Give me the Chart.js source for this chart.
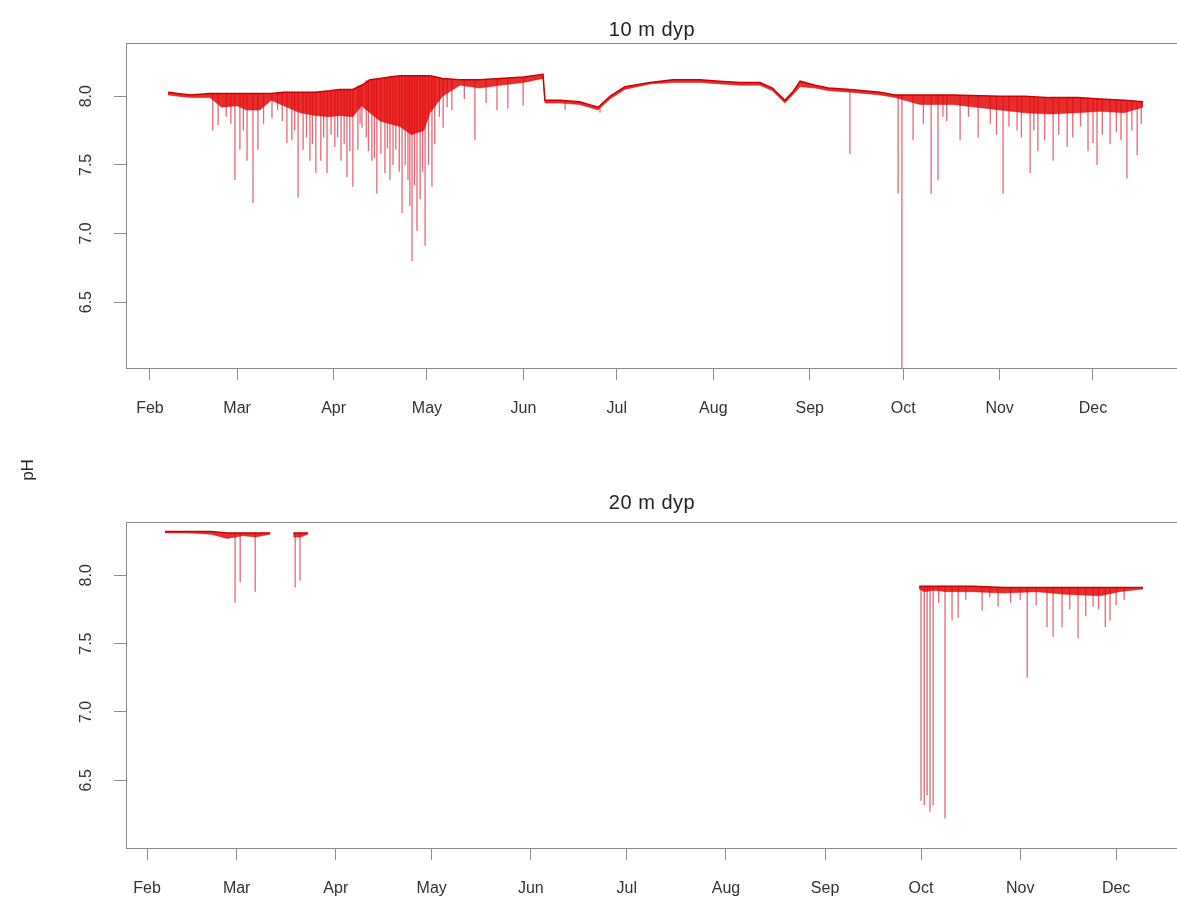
<!DOCTYPE html>
<html>
<head>
<meta charset="utf-8">
<title>pH 10 m / 20 m dyp</title>
<script src="https://cdn.jsdelivr.net/npm/chart.js@4.4.1/dist/chart.umd.min.js"></script>
<style>
  html, body { margin: 0; padding: 0; background: #fff; }
  #wrap { position: relative; width: 1177px; height: 903px; overflow: hidden; }
  #wrap canvas { position: absolute; left: 0; top: 0; }
</style>
</head>
<body>
<div id="wrap">
  <canvas id="c10" width="1190" height="903"></canvas>
  <canvas id="c20" width="1190" height="903"></canvas>
</div>
<script>
// aksen: dag i året (1. feb = 32)
var monthDays = [32, 60, 91, 121, 152, 182, 213, 244, 274, 305, 335];
var monthLabels = ['Feb', 'Mar', 'Apr', 'May', 'Jun', 'Jul', 'Aug', 'Sep', 'Oct', 'Nov', 'Dec'];
var phTicks = [6.5, 7.0, 7.5, 8.0];

// 10 m dyp: øvre kant av kurven og nedre kant av det tette båndet
var days10 = [37.8, 41, 45, 51.3, 55, 60, 63, 67.3, 71, 75, 80.2, 85, 89.8, 93, 97.2, 100, 102.7, 105.9, 109, 112.3,
  116, 120, 122, 126, 131.6, 138, 144.5, 152, 158.3, 158.9, 163.7, 170, 176, 179.8, 184.6, 192.7, 200, 208.7, 215,
  221.6, 228, 232, 236, 238.5, 240.9, 245.7, 250, 256.9, 266.6, 271.4, 279.4, 290, 305.1, 313, 321.2, 330, 337.3, 345, 351.1];
var upper10 = [8.03, 8.02, 8.01, 8.02, 8.02, 8.02, 8.02, 8.02, 8.02, 8.03, 8.03, 8.03, 8.04, 8.05, 8.05, 8.08, 8.12, 8.13, 8.14, 8.15,
  8.15, 8.15, 8.15, 8.13, 8.12, 8.12, 8.13, 8.14, 8.16, 7.97, 7.97, 7.96, 7.92, 8.00, 8.07, 8.10, 8.12, 8.12, 8.11,
  8.10, 8.10, 8.06, 7.97, 8.03, 8.11, 8.08, 8.06, 8.05, 8.03, 8.01, 8.01, 8.01, 8.00, 8.00, 7.99, 7.99, 7.98, 7.97, 7.96];
var lower10 = [8.01, 8.00, 7.99, 7.99, 7.92, 7.93, 7.90, 7.90, 7.97, 7.93, 7.88, 7.86, 7.85, 7.86, 7.85, 7.93, 7.88, 7.82, 7.80, 7.78,
  7.72, 7.75, 7.88, 8.00, 8.08, 8.06, 8.08, 8.10, 8.13, 7.95, 7.95, 7.94, 7.90, 7.98, 8.05, 8.09, 8.10, 8.10, 8.09,
  8.08, 8.08, 8.04, 7.95, 8.01, 8.07, 8.06, 8.04, 8.03, 8.01, 7.99, 7.94, 7.94, 7.90, 7.88, 7.87, 7.88, 7.89, 7.88, 7.92];
// enkeltstående dypp (dag, laveste pH)
var spikeDays10 = [52.2, 53.9, 56.5, 58, 59.3, 60.9, 62, 63.2, 65.1, 66.7, 68.5, 71.2, 73, 74.5, 76.0, 77.6, 78.5, 79.6,
  81.2, 82.3, 83.4, 84.2, 85.3, 86.9, 87.8, 88.9, 90.2, 91.4, 92.3, 93.4, 94.4, 95.3, 96.2, 97.2, 98.8, 99.5, 100.1,
  101.5, 102.2, 103.3, 104.1, 104.9, 106.2, 107.5, 108.3, 109.1, 110.1, 111.0, 112.1, 113.0, 114, 114.9, 115.5, 116.2,
  117, 117.8, 118.8, 119.6, 120.4, 121.5, 122.6, 123.5, 125, 126.2, 127.5, 129.0, 133, 136.4, 140, 143.5, 147.0, 151.9,
  165.4, 176.6, 256.9, 272.4, 273.6, 277.2, 280.5, 283.0, 285.2, 286.8, 288, 292.3, 295, 298.1, 302, 304, 306.1, 308,
  310.6, 312, 314.8, 316, 317.3, 319.5, 322.2, 324, 326.7, 328.5, 331, 333.4, 335, 336.3, 338, 340.5, 342.5, 344,
  345.9, 347.5, 349.2, 350.5];
var spikeLows10 = [7.75, 7.79, 7.85, 7.80, 7.39, 7.61, 7.75, 7.53, 7.22, 7.61, 7.80, 7.84, 7.90, 7.82, 7.66, 7.68, 7.75, 7.26,
  7.61, 7.70, 7.53, 7.65, 7.44, 7.53, 7.70, 7.44, 7.72, 7.63, 7.70, 7.53, 7.65, 7.41, 7.60, 7.34, 7.61, 7.80, 7.77,
  7.70, 7.60, 7.53, 7.55, 7.29, 7.58, 7.44, 7.62, 7.39, 7.50, 7.61, 7.45, 7.15, 7.50, 7.39, 7.20, 6.80,
  7.35, 7.02, 7.25, 7.45, 6.91, 7.50, 7.34, 7.65, 7.85, 7.77, 7.92, 7.90, 7.98, 7.68, 7.95, 7.90, 7.91, 7.93,
  7.90, 7.88, 7.58, 7.29, 6.02, 7.68, 7.80, 7.29, 7.39, 7.85, 7.82, 7.68, 7.85, 7.70, 7.80, 7.72, 7.29, 7.78,
  7.75, 7.70, 7.44, 7.75, 7.60, 7.68, 7.53, 7.72, 7.63, 7.70, 7.78, 7.60, 7.66, 7.50, 7.72, 7.65, 7.74, 7.68,
  7.40, 7.75, 7.57, 7.80];

// 20 m dyp (null = ingen målinger)
var days20 = [37.6, 45, 52, 57, 62, 66, 70.5, 74, 77.7, 80, 82.3, 180, 273.4, 275, 278, 282, 290, 300, 310, 320, 330, 336, 343.4];
var upper20 = [8.32, 8.32, 8.32, 8.31, 8.31, 8.31, 8.31, null, 8.31, 8.31, 8.31, null, 7.92, 7.92, 7.92, 7.92, 7.92, 7.91, 7.91, 7.91, 7.91, 7.91, 7.91];
var lower20 = [8.31, 8.31, 8.30, 8.27, 8.29, 8.28, 8.30, null, 8.28, 8.28, 8.30, null, 7.90, 7.88, 7.89, 7.88, 7.88, 7.87, 7.88, 7.86, 7.85, 7.88, 7.90];
var spikeDays20 = [59.5, 61.1, 65.8, 78.3, 79.8, 274.0, 275.0, 275.9, 276.8, 277.8, 279.5, 281.5, 283.7, 285.6, 288,
  293.1, 295.5, 298.1, 302, 305, 307.2, 310, 313.4, 315.3, 318.1, 320.5, 323.1, 325.5, 327.8, 329.5, 331.6, 333.1, 335, 337.5];
var spikeLows20 = [7.80, 7.95, 7.88, 7.91, 7.96, 6.35, 6.32, 6.39, 6.27, 6.32, 7.80, 6.22, 7.67, 7.69, 7.82,
  7.74, 7.84, 7.77, 7.80, 7.82, 7.25, 7.78, 7.62, 7.55, 7.62, 7.75, 7.54, 7.70, 7.77, 7.75, 7.62, 7.67, 7.78, 7.82];

var FONT = '"Liberation Sans", Arial, Helvetica, sans-serif';
Chart.defaults.font.family = FONT;

// nærmeste registrerte toppverdi for et dypp
function nearestUpper(days, upper, d) {
  var best = null, dist = Infinity;
  for (var i = 0; i < days.length; i++) {
    if (upper[i] === null) continue;
    var dd = Math.abs(days[i] - d);
    if (dd < dist) { dist = dd; best = upper[i]; }
  }
  return best;
}

function toPoints(days, vals) {
  return days.map(function(d, i) { return { x: d, y: vals[i] }; });
}

function spikePoints(days, upper, sDays, sLows) {
  var pts = [];
  for (var i = 0; i < sDays.length; i++) {
    pts.push({ x: sDays[i], y: nearestUpper(days, upper, sDays[i]) });
    pts.push({ x: sDays[i], y: sLows[i] });
    pts.push({ x: sDays[i], y: null });
  }
  return pts;
}

// ramme, tittel og felles y-tekst
var framePlugin = {
  id: 'frame',
  afterDraw: function(chart, args, opts) {
    var a = chart.chartArea, ctx = chart.ctx;
    ctx.save();
    ctx.strokeStyle = '#8a8a8a';
    ctx.lineWidth = 1;
    ctx.strokeRect(Math.round(a.left) + 0.5, Math.round(a.top) + 0.5,
      Math.round(a.right - a.left), Math.round(a.bottom - a.top));
    ctx.fillStyle = '#222';
    ctx.textAlign = 'center';
    ctx.textBaseline = 'middle';
    ctx.font = '20px ' + FONT;
    if ('letterSpacing' in ctx) ctx.letterSpacing = '0.5px';
    ctx.fillText(opts.title, opts.titleX, opts.titleY);
    if ('letterSpacing' in ctx) ctx.letterSpacing = '0px';
    if (opts.yLabel) {
      ctx.translate(opts.yLabelX, opts.yLabelY);
      ctx.rotate(-Math.PI / 2);
      ctx.font = '17px ' + FONT;
      ctx.fillText(opts.yLabel, 0, 0);
    }
    ctx.restore();
  }
};

function makeChart(id, cfg) {
  var tickFont = { size: 16, family: FONT };
  return new Chart(document.getElementById(id), {
    type: 'line',
    data: {
      datasets: [{
        data: toPoints(cfg.days, cfg.upper),
        borderColor: '#cc0000',
        borderWidth: 1.5,
        pointRadius: 0,
        spanGaps: false
      }, {
        data: toPoints(cfg.days, cfg.lower),
        borderColor: 'rgba(225,0,0,0.45)',
        backgroundColor: 'rgba(226,0,0,0.82)',
        borderWidth: 1,
        pointRadius: 0,
        fill: '-1',
        spanGaps: false
      }, {
        data: spikePoints(cfg.days, cfg.upper, cfg.spikeDays, cfg.spikeLows),
        borderColor: 'rgba(218,0,25,0.6)',
        borderWidth: 1.3,
        pointRadius: 0,
        spanGaps: false
      }]
    },
    options: {
      responsive: false,
      animation: false,
      events: [],
      layout: { padding: { top: cfg.top, bottom: cfg.bottomPad, left: 0, right: 8 } },
      plugins: {
        legend: { display: false },
        tooltip: { enabled: false },
        frame: { title: cfg.title, titleX: 652, titleY: cfg.titleY, yLabel: cfg.yLabel, yLabelX: 28, yLabelY: 470 }
      },
      scales: {
        x: {
          type: 'linear',
          min: cfg.xMin,
          max: cfg.xMax,
          afterBuildTicks: function(s) { s.ticks = monthDays.map(function(v) { return { value: v }; }); },
          afterFit: function(s) { s.height = 50; },
          ticks: {
            autoSkip: false, maxRotation: 0, padding: 19, color: '#333', font: tickFont,
            callback: function(v, i) { return monthLabels[i]; }
          },
          grid: { drawOnChartArea: false, drawTicks: true, tickLength: 12, color: '#8a8a8a' },
          border: { display: false }
        },
        y: {
          min: cfg.yMin,
          max: cfg.yMax,
          afterBuildTicks: function(s) { s.ticks = phTicks.map(function(v) { return { value: v }; }); },
          afterFit: function(s) { s.width = 126; },
          ticks: {
            minRotation: 90, maxRotation: 90, crossAlign: 'center', padding: 16, color: '#333', font: tickFont,
            callback: function(v) { return v.toFixed(1); }
          },
          grid: { drawOnChartArea: false, drawTicks: true, tickLength: 12, color: '#8a8a8a' },
          border: { display: false }
        }
      }
    },
    plugins: [framePlugin]
  });
}

makeChart('c10', {
  days: days10, upper: upper10, lower: lower10, spikeDays: spikeDays10, spikeLows: spikeLows10,
  title: '10 m dyp', titleY: 30, yLabel: 'pH',
  top: 43, bottomPad: 903 - 368 - 50,
  xMin: 24.3, xMax: 363.6, yMin: 6.02, yMax: 8.388
});
makeChart('c20', {
  days: days20, upper: upper20, lower: lower20, spikeDays: spikeDays20, spikeLows: spikeLows20,
  title: '20 m dyp', titleY: 503, yLabel: null,
  top: 522, bottomPad: 903 - 848 - 50,
  xMin: 25.4, xMax: 355.6, yMin: 6.005, yMax: 8.39
});
</script>
</body>
</html>
